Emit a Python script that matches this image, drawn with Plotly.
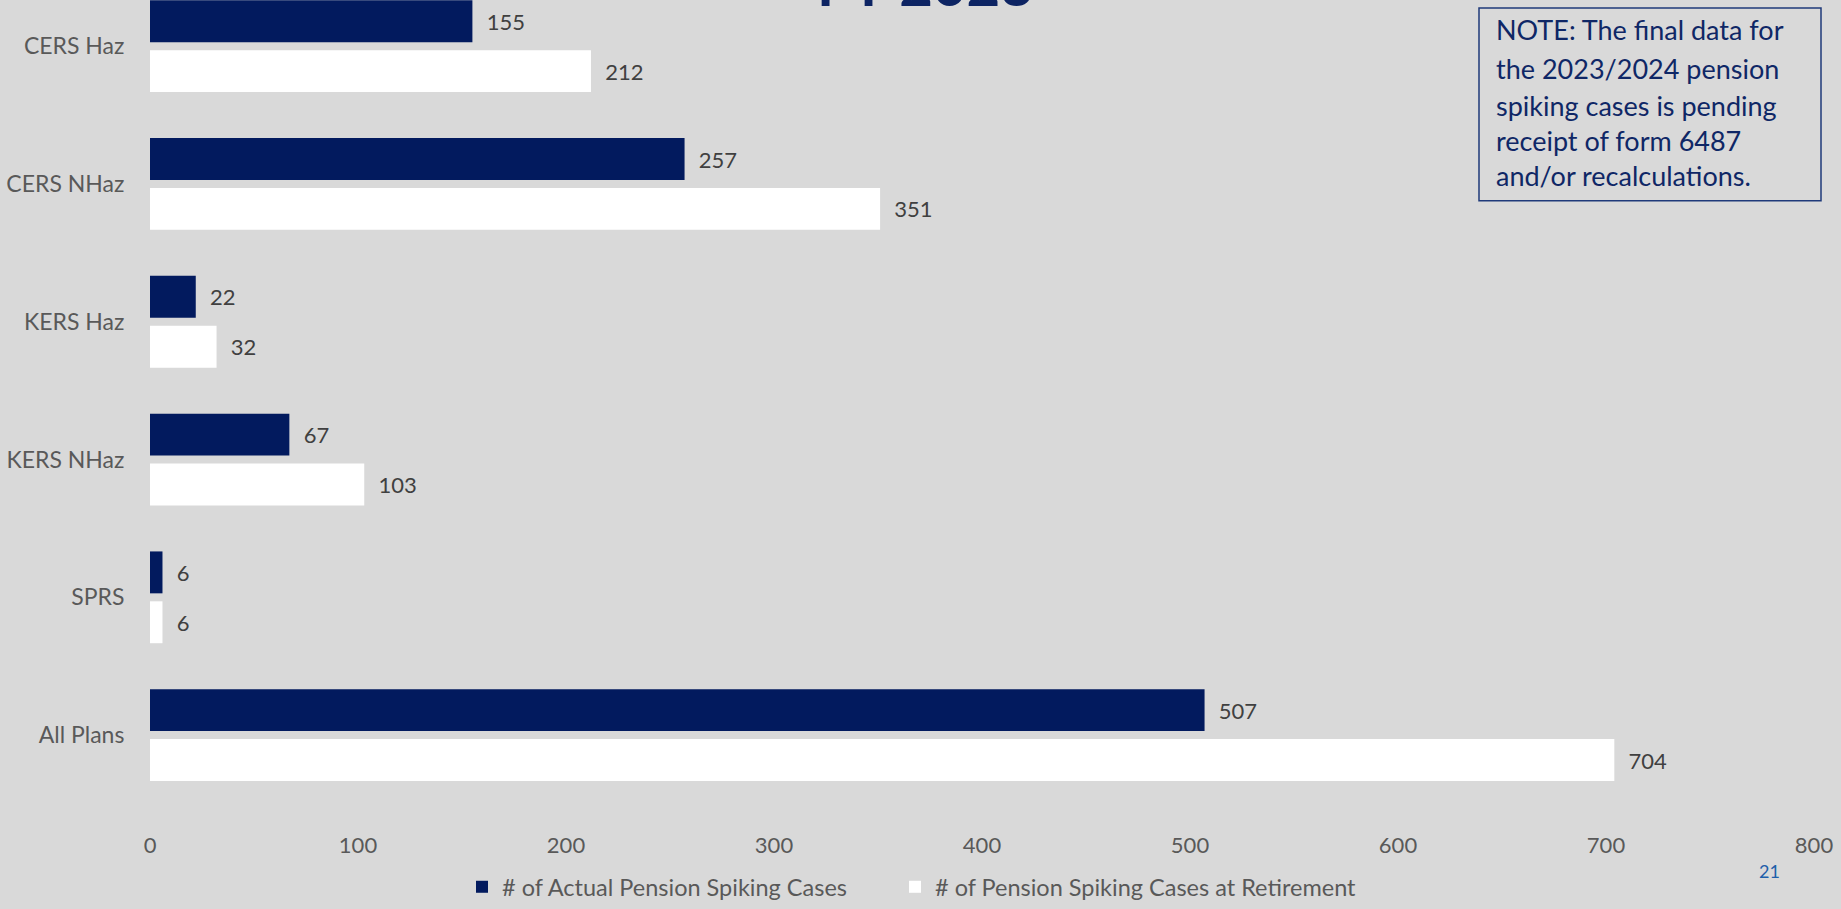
import plotly.graph_objects as go

categories = ["CERS Haz", "CERS NHaz", "KERS Haz", "KERS NHaz", "SPRS", "All Plans"]
actual_cases = [155, 257, 22, 67, 6, 507]
retirement_cases = [212, 351, 32, 103, 6, 704]
series_names = ["# of Actual Pension Spiking Cases", "# of Pension Spiking Cases at Retirement"]
x_ticks = [0, 100, 200, 300, 400, 500, 600, 700, 800]
note_lines = [
    "NOTE: The final data for",
    "the 2023/2024 pension",
    "spiking cases is pending",
    "receipt of form 6487",
    "and/or recalculations.",
]
title_text = "FY 2023"
page_number = "21"

FONT = "Lato, 'Open Sans', sans-serif"
BG = "#d9d9d9"
NAVY = "#021a5e"
NOTE_NAVY = "#0f2766"

PLOT_L, PLOT_W, PLOT_H = 150, 1664, 809


def px_x(p):
    return (p - PLOT_L) / PLOT_W


def px_y(p):
    return 1 - p / PLOT_H


fig = go.Figure()
fig.add_trace(go.Bar(
    y=categories, x=actual_cases, orientation="h", name=series_names[0],
    marker=dict(color=NAVY, line=dict(width=0)), legend="legend",
    text=actual_cases, texttemplate="\u00a0\u00a0%{x}", textposition="outside",
    textfont=dict(family=FONT, size=22, color="#404040"), cliponaxis=False,
))
fig.add_trace(go.Bar(
    y=categories, x=retirement_cases, orientation="h", name=series_names[1],
    marker=dict(color="#ffffff", line=dict(width=0)), legend="legend2",
    text=retirement_cases, texttemplate="\u00a0\u00a0%{x}", textposition="outside",
    textfont=dict(family=FONT, size=22, color="#404040"), cliponaxis=False,
))

annotations = []
# slide title, only its lower edge is visible at the top of the page
annotations.append(dict(
    text="<b>" + title_text + "</b>", xref="paper", yref="paper",
    x=px_x(925), y=1, xanchor="center", yanchor="bottom", yshift=-20,
    showarrow=False, font=dict(family=FONT, size=58, color="#0d2463"),
))
# note box lines
note_y = [30, 69, 106, 141, 177]
for line, yy in zip(note_lines, note_y):
    annotations.append(dict(
        text=line, xref="paper", yref="paper",
        x=px_x(1494), y=px_y(yy), xanchor="left", yanchor="middle",
        showarrow=False, font=dict(family=FONT, size=27, color=NOTE_NAVY),
    ))
# page number
annotations.append(dict(
    text=page_number, xref="paper", yref="paper",
    x=px_x(1769), y=px_y(876), xanchor="center", yanchor="middle",
    showarrow=False, font=dict(family=FONT, size=18, color="#1f5faa"),
))

legend_common = dict(
    orientation="h", yanchor="middle", y=px_y(893), xanchor="left",
    font=dict(family=FONT, size=23.5, color="#595959"),
    bgcolor="rgba(0,0,0,0)", borderwidth=0,
)

fig.update_layout(
    width=1841, height=909,
    paper_bgcolor=BG, plot_bgcolor=BG,
    margin=dict(l=PLOT_L, r=1841 - PLOT_L - PLOT_W, t=0, b=909 - PLOT_H),
    barmode="group", bargap=0.276, bargroupgap=0.16,
    font=dict(family=FONT, size=22, color="#595959"),
    showlegend=True,
    legend=dict(legend_common, x=px_x(462)),
    legend2=dict(legend_common, x=px_x(895)),
    xaxis=dict(
        range=[0, 800], tickvals=x_ticks, showgrid=False, zeroline=False,
        showline=False, ticks="outside", ticklen=22, tickcolor="rgba(0,0,0,0)",
        tickfont=dict(family=FONT, size=22, color="#595959"),
    ),
    yaxis=dict(
        categoryorder="array", categoryarray=categories,
        range=[5.5, -0.335], showgrid=False, zeroline=False, showline=False,
        ticks="outside", ticklen=20, tickcolor="rgba(0,0,0,0)",
        tickfont=dict(family=FONT, size=23, color="#595959"),
    ),
    annotations=annotations,
    shapes=[dict(
        type="rect", xref="paper", yref="paper",
        x0=px_x(1479), x1=px_x(1821), y0=px_y(202), y1=px_y(8),
        line=dict(color="#1f3a7a", width=1.5), fillcolor="rgba(0,0,0,0)",
    )],
)

fig.write_html("out.html")
